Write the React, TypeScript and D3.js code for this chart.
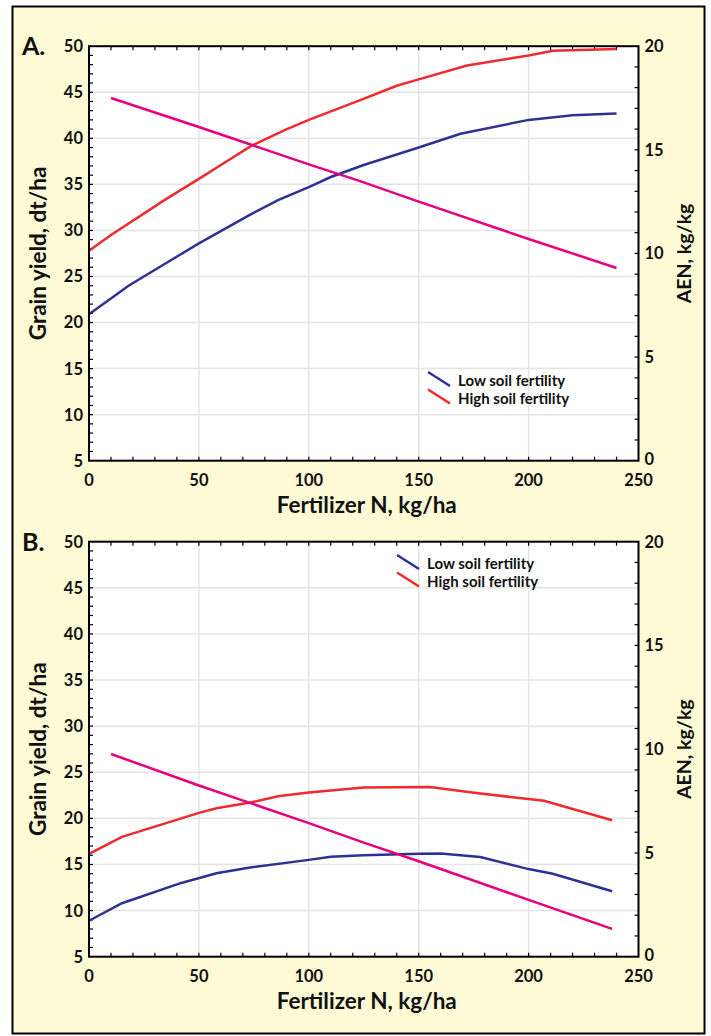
import * as React from 'react';
import {line, range, scaleLinear} from 'd3';

// panel A readings
const nLowA = [0, 18, 41, 50, 74, 86, 100, 110, 125, 150, 169, 200, 220, 240];
const yieldLowA = [20.9, 24.0, 27.3, 28.6, 31.8, 33.3, 34.7, 35.8, 37.1, 39.0, 40.5, 42.0, 42.5, 42.7];
const nHighA = [0, 10, 35, 50, 60, 74, 89, 100, 124, 140, 150, 172, 200, 211, 240];
const yieldHighA = [27.8, 29.5, 33.4, 35.6, 37.1, 39.2, 40.9, 42.0, 44.2, 45.7, 46.4, 47.9, 49.0, 49.5, 49.7];
const nAenA = [10, 50, 100, 123, 150, 200, 240];
const aenA = [17.5, 16.1, 14.3, 13.5, 12.5, 10.7, 9.3];

// panel B readings
const nLowB = [0, 15, 42, 58, 74, 100, 110, 125, 150, 160, 178, 200, 211, 238];
const yieldLowB = [8.9, 10.8, 13.0, 14.05, 14.7, 15.5, 15.85, 16.0, 16.15, 16.2, 15.8, 14.5, 14.0, 12.1];
const nHighB = [0, 15, 50, 58, 74, 86, 100, 125, 155, 178, 200, 207, 238];
const yieldHighB = [16.15, 18.0, 20.6, 21.1, 21.75, 22.4, 22.8, 23.35, 23.4, 22.7, 22.1, 21.9, 19.8];
const nAenB = [10, 50, 100, 125, 150, 200, 238];
const aenB = [9.77, 8.25, 6.44, 5.5, 4.6, 2.74, 1.34];

const xTicks = [0, 50, 100, 150, 200, 250];
const yTicks = [5, 10, 15, 20, 25, 30, 35, 40, 45, 50];
const aenTicks = [0, 5, 10, 15, 20];
const seriesNames = ['Low soil fertility', 'High soil fertility'];

const W = 711;
const H = 1036;
const left = 89;
const right = 638.5;
const FONT = 'Lato, "Noto Sans", sans-serif';
const BLUE = '#2e3192';
const RED = '#ee2a2e';
const PINK = '#e6007e';

const xScale = scaleLinear().domain([0, 250]).range([left, right]);

type PanelProps = {
    label: string;
    top: number;
    bottom: number;
    low: [number[], number[]];
    high: [number[], number[]];
    aen: [number[], number[]];
    legendX: number;
    legendY: number;
};

const Panel = ({label, top, bottom, low, high, aen, legendX, legendY}: PanelProps) => {
    const yL = scaleLinear().domain([5, 50]).range([bottom, top]);
    const yR = scaleLinear().domain([0, 20]).range([bottom, top]);
    const pathL = (ns: number[], vs: number[]) =>
        line<number>().x((d, i) => xScale(ns[i])).y(d => yL(d))(vs) || '';
    const pathR = (ns: number[], vs: number[]) =>
        line<number>().x((d, i) => xScale(ns[i])).y(d => yR(d))(vs) || '';
    const midY = (top + bottom) / 2;
    return (
        <g>
            <rect x={left} y={top} width={right - left} height={bottom - top} fill="#fff"/>
            {xTicks.slice(1, -1).map(t =>
                <line key={'gx' + t} x1={xScale(t)} x2={xScale(t)} y1={top} y2={bottom}
                      stroke="#e4e4e4" strokeWidth={1.5}/>
            )}
            {yTicks.slice(1, -1).map(t =>
                <line key={'gy' + t} x1={left} x2={right} y1={yL(t)} y2={yL(t)}
                      stroke="#e4e4e4" strokeWidth={1.5}/>
            )}
            {range(10, 250, 10).map(t =>
                <g key={'tx' + t}>
                    <line x1={xScale(t)} x2={xScale(t)} y1={top} y2={top + 4} stroke="#000" strokeWidth={1.2}/>
                    <line x1={xScale(t)} x2={xScale(t)} y1={bottom} y2={bottom - 4} stroke="#000" strokeWidth={1.2}/>
                </g>
            )}
            {range(6, 50, 1).map(t =>
                <line key={'tl' + t} x1={left} x2={left + 4} y1={yL(t)} y2={yL(t)} stroke="#000" strokeWidth={1.2}/>
            )}
            {range(1, 20, 1).map(t =>
                <line key={'tr' + t} x1={right} x2={right - 4} y1={yR(t)} y2={yR(t)} stroke="#000" strokeWidth={1.2}/>
            )}
            <path d={pathL(low[0], low[1])} fill="none" stroke={BLUE} strokeWidth={2.5}/>
            <path d={pathL(high[0], high[1])} fill="none" stroke={RED} strokeWidth={2.5}/>
            <path d={pathR(aen[0], aen[1])} fill="none" stroke={PINK} strokeWidth={2.5}/>
            <rect x={left} y={top} width={right - left} height={bottom - top} fill="none" stroke="#000" strokeWidth={2}/>
            {xTicks.map(t =>
                <text key={'lx' + t} x={xScale(t)} y={bottom + 25} textAnchor="middle"
                      fontSize={16.5} fontWeight={700} fill="#111">{t}</text>
            )}
            {yTicks.map(t =>
                <text key={'ly' + t} x={left - 6} y={yL(t)} dy="0.36em" textAnchor="end"
                      fontSize={16.5} fontWeight={700} fill="#111">{t}</text>
            )}
            {aenTicks.map(t =>
                <text key={'lr' + t} x={right + 6} y={yR(t) - (t === 0 ? 1.5 : 0)} dy="0.36em" textAnchor="start"
                      fontSize={16.5} fontWeight={700} fill="#111">{t}</text>
            )}
            <text x={(left + right) / 2 + 3} y={bottom + 52} textAnchor="middle"
                  fontSize={22.5} fontWeight={700} fill="#111">Fertilizer N, kg/ha</text>
            <text transform={`translate(46,${midY}) rotate(-90)`} textAnchor="middle"
                  fontSize={22.5} fontWeight={700} fill="#111">Grain yield, dt/ha</text>
            <text transform={`translate(691,${midY}) rotate(-90)`} textAnchor="middle"
                  fontSize={19.5} fontWeight={700} fill="#111">AEN, kg/kg</text>
            <text x={22} y={top + 9} fontSize={25} fontWeight={700} fill="#111">{label}</text>
            {seriesNames.map((s, i) =>
                <g key={s} transform={`translate(${legendX},${legendY + i * 17.5})`}>
                    <line x1={0} y1={-14} x2={22} y2={0} stroke={i === 0 ? BLUE : RED} strokeWidth={2.5}/>
                    <text x={30} y={0} fontSize={15} fontWeight={700} fill="#111">{s}</text>
                </g>
            )}
        </g>
    );
};

export default function App() {
    return (
        <svg width={W} height={H} style={{position: 'absolute', left: 0, top: 0, display: 'block'}}
             fontFamily={FONT}>
            <rect x={0} y={0} width={W} height={H} fill="#fff"/>
            <rect x={12.5} y={6.5} width={692} height={1027} fill="#fffad6" stroke="#000" strokeWidth={2}/>
            <Panel label="A." top={46.2} bottom={460.7}
                   low={[nLowA, yieldLowA]} high={[nHighA, yieldHighA]} aen={[nAenA, aenA]}
                   legendX={428} legendY={386}/>
            <Panel label="B." top={541.7} bottom={956.7}
                   low={[nLowB, yieldLowB]} high={[nHighB, yieldHighB]} aen={[nAenB, aenB]}
                   legendX={397} legendY={569}/>
        </svg>
    );
}
